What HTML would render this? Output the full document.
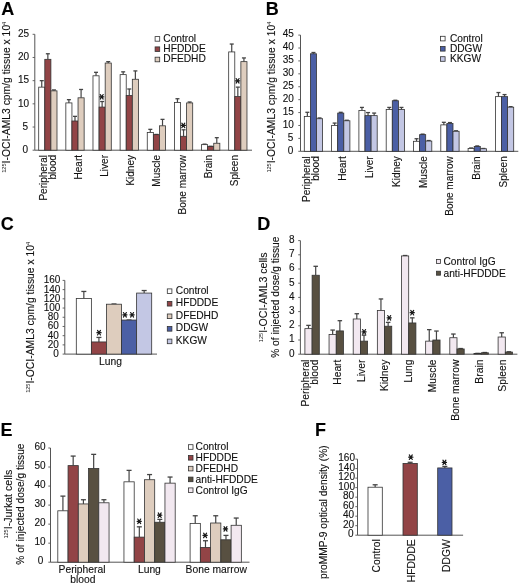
<!DOCTYPE html>
<html><head><meta charset="utf-8"><style>
html,body{margin:0;padding:0;background:#fff;}
body{width:520px;height:585px;overflow:hidden;}
svg{display:block;font-family:"Liberation Sans", sans-serif;filter:blur(0.35px);}
text{stroke:#111;stroke-width:0.12px;}
tspan[font-size="5.6"]{stroke-width:0;}
</style></head><body>
<svg width="520" height="585" viewBox="0 0 520 585">
<text x="1.20" y="15.00" font-size="18" text-anchor="start" font-weight="bold" fill="#000" >A</text>
<line x1="34.80" y1="34.30" x2="34.80" y2="150.20" stroke="#555" stroke-width="1"/>
<line x1="32.60" y1="150.20" x2="34.80" y2="150.20" stroke="#555" stroke-width="0.9"/>
<text x="28.00" y="153.00" font-size="10" text-anchor="end" font-weight="normal" fill="#111" >0</text>
<line x1="32.60" y1="127.02" x2="34.80" y2="127.02" stroke="#555" stroke-width="0.9"/>
<text x="28.00" y="129.82" font-size="10" text-anchor="end" font-weight="normal" fill="#111" >5</text>
<line x1="32.60" y1="103.84" x2="34.80" y2="103.84" stroke="#555" stroke-width="0.9"/>
<text x="29.10" y="106.64" font-size="10" text-anchor="end" font-weight="normal" fill="#111" >10</text>
<line x1="32.60" y1="80.66" x2="34.80" y2="80.66" stroke="#555" stroke-width="0.9"/>
<text x="29.10" y="83.46" font-size="10" text-anchor="end" font-weight="normal" fill="#111" >15</text>
<line x1="32.60" y1="57.48" x2="34.80" y2="57.48" stroke="#555" stroke-width="0.9"/>
<text x="29.10" y="60.28" font-size="10" text-anchor="end" font-weight="normal" fill="#111" >20</text>
<line x1="32.60" y1="34.30" x2="34.80" y2="34.30" stroke="#555" stroke-width="0.9"/>
<text x="29.10" y="37.10" font-size="10" text-anchor="end" font-weight="normal" fill="#111" >25</text>
<line x1="34.80" y1="150.20" x2="252.00" y2="150.20" stroke="#555" stroke-width="1"/>
<text transform="translate(9.60,97.25) rotate(-90)" font-size="10.35" text-anchor="middle" fill="#111" ><tspan font-size="5.6" dy="-3.6">125</tspan><tspan dy="3.6">I-OCI-AML3 cpm/g tissue x 10</tspan><tspan font-size="5.6" dy="-3.6">4</tspan></text>
<line x1="41.75" y1="80.66" x2="41.75" y2="87.15" stroke="#444" stroke-width="1.2"/>
<line x1="39.75" y1="80.66" x2="43.75" y2="80.66" stroke="#444" stroke-width="1.3"/>
<rect x="38.70" y="87.15" width="6.10" height="63.05" fill="#ffffff" stroke="#333" stroke-width="0.8"/>
<line x1="47.85" y1="53.77" x2="47.85" y2="59.33" stroke="#444" stroke-width="1.2"/>
<line x1="45.85" y1="53.77" x2="49.85" y2="53.77" stroke="#444" stroke-width="1.3"/>
<rect x="44.80" y="59.33" width="6.10" height="90.87" fill="#924446" stroke="#333" stroke-width="0.8"/>
<line x1="53.95" y1="89.93" x2="53.95" y2="90.86" stroke="#444" stroke-width="1.2"/>
<line x1="51.95" y1="89.93" x2="55.95" y2="89.93" stroke="#444" stroke-width="1.3"/>
<rect x="50.90" y="90.86" width="6.10" height="59.34" fill="#decdbe" stroke="#333" stroke-width="0.8"/>
<line x1="68.89" y1="99.67" x2="68.89" y2="102.91" stroke="#444" stroke-width="1.2"/>
<line x1="66.89" y1="99.67" x2="70.89" y2="99.67" stroke="#444" stroke-width="1.3"/>
<rect x="65.84" y="102.91" width="6.10" height="47.29" fill="#ffffff" stroke="#333" stroke-width="0.8"/>
<line x1="74.99" y1="116.36" x2="74.99" y2="120.99" stroke="#444" stroke-width="1.2"/>
<line x1="72.99" y1="116.36" x2="76.99" y2="116.36" stroke="#444" stroke-width="1.3"/>
<rect x="71.94" y="120.99" width="6.10" height="29.21" fill="#924446" stroke="#333" stroke-width="0.8"/>
<line x1="81.09" y1="89.47" x2="81.09" y2="97.81" stroke="#444" stroke-width="1.2"/>
<line x1="79.09" y1="89.47" x2="83.09" y2="89.47" stroke="#444" stroke-width="1.3"/>
<rect x="78.04" y="97.81" width="6.10" height="52.39" fill="#decdbe" stroke="#333" stroke-width="0.8"/>
<line x1="96.03" y1="72.32" x2="96.03" y2="75.79" stroke="#444" stroke-width="1.2"/>
<line x1="94.03" y1="72.32" x2="98.03" y2="72.32" stroke="#444" stroke-width="1.3"/>
<rect x="92.98" y="75.79" width="6.10" height="74.41" fill="#ffffff" stroke="#333" stroke-width="0.8"/>
<line x1="102.13" y1="101.52" x2="102.13" y2="107.09" stroke="#444" stroke-width="1.2"/>
<line x1="100.13" y1="101.52" x2="104.13" y2="101.52" stroke="#444" stroke-width="1.3"/>
<rect x="99.08" y="107.09" width="6.10" height="43.11" fill="#924446" stroke="#333" stroke-width="0.8"/>
<line x1="108.23" y1="61.65" x2="108.23" y2="63.04" stroke="#444" stroke-width="1.2"/>
<line x1="106.23" y1="61.65" x2="110.23" y2="61.65" stroke="#444" stroke-width="1.3"/>
<rect x="105.18" y="63.04" width="6.10" height="87.16" fill="#decdbe" stroke="#333" stroke-width="0.8"/>
<line x1="123.17" y1="71.85" x2="123.17" y2="74.63" stroke="#444" stroke-width="1.2"/>
<line x1="121.17" y1="71.85" x2="125.17" y2="71.85" stroke="#444" stroke-width="1.3"/>
<rect x="120.12" y="74.63" width="6.10" height="75.57" fill="#ffffff" stroke="#333" stroke-width="0.8"/>
<line x1="129.27" y1="89.00" x2="129.27" y2="95.50" stroke="#444" stroke-width="1.2"/>
<line x1="127.27" y1="89.00" x2="131.27" y2="89.00" stroke="#444" stroke-width="1.3"/>
<rect x="126.22" y="95.50" width="6.10" height="54.70" fill="#924446" stroke="#333" stroke-width="0.8"/>
<line x1="135.37" y1="70.92" x2="135.37" y2="79.27" stroke="#444" stroke-width="1.2"/>
<line x1="133.37" y1="70.92" x2="137.37" y2="70.92" stroke="#444" stroke-width="1.3"/>
<rect x="132.32" y="79.27" width="6.10" height="70.93" fill="#decdbe" stroke="#333" stroke-width="0.8"/>
<line x1="150.31" y1="129.34" x2="150.31" y2="132.40" stroke="#444" stroke-width="1.2"/>
<line x1="148.31" y1="129.34" x2="152.31" y2="129.34" stroke="#444" stroke-width="1.3"/>
<rect x="147.26" y="132.40" width="6.10" height="17.80" fill="#ffffff" stroke="#333" stroke-width="0.8"/>
<line x1="156.41" y1="134.44" x2="156.41" y2="134.67" stroke="#444" stroke-width="1.2"/>
<line x1="154.41" y1="134.44" x2="158.41" y2="134.44" stroke="#444" stroke-width="1.3"/>
<rect x="153.36" y="134.67" width="6.10" height="15.53" fill="#924446" stroke="#333" stroke-width="0.8"/>
<line x1="162.51" y1="119.37" x2="162.51" y2="125.81" stroke="#444" stroke-width="1.2"/>
<line x1="160.51" y1="119.37" x2="164.51" y2="119.37" stroke="#444" stroke-width="1.3"/>
<rect x="159.46" y="125.81" width="6.10" height="24.39" fill="#decdbe" stroke="#333" stroke-width="0.8"/>
<line x1="177.45" y1="98.74" x2="177.45" y2="102.45" stroke="#444" stroke-width="1.2"/>
<line x1="175.45" y1="98.74" x2="179.45" y2="98.74" stroke="#444" stroke-width="1.3"/>
<rect x="174.40" y="102.45" width="6.10" height="47.75" fill="#ffffff" stroke="#333" stroke-width="0.8"/>
<line x1="183.55" y1="129.80" x2="183.55" y2="136.29" stroke="#444" stroke-width="1.2"/>
<line x1="181.55" y1="129.80" x2="185.55" y2="129.80" stroke="#444" stroke-width="1.3"/>
<rect x="180.50" y="136.29" width="6.10" height="13.91" fill="#924446" stroke="#333" stroke-width="0.8"/>
<line x1="189.65" y1="101.99" x2="189.65" y2="102.91" stroke="#444" stroke-width="1.2"/>
<line x1="187.65" y1="101.99" x2="191.65" y2="101.99" stroke="#444" stroke-width="1.3"/>
<rect x="186.60" y="102.91" width="6.10" height="47.29" fill="#decdbe" stroke="#333" stroke-width="0.8"/>
<line x1="204.59" y1="144.17" x2="204.59" y2="144.64" stroke="#444" stroke-width="1.2"/>
<line x1="202.59" y1="144.17" x2="206.59" y2="144.17" stroke="#444" stroke-width="1.3"/>
<rect x="201.54" y="144.64" width="6.10" height="5.56" fill="#ffffff" stroke="#333" stroke-width="0.8"/>
<line x1="210.69" y1="146.26" x2="210.69" y2="146.49" stroke="#444" stroke-width="1.2"/>
<line x1="208.69" y1="146.26" x2="212.69" y2="146.26" stroke="#444" stroke-width="1.3"/>
<rect x="207.64" y="146.49" width="6.10" height="3.71" fill="#924446" stroke="#333" stroke-width="0.8"/>
<line x1="216.79" y1="137.68" x2="216.79" y2="143.25" stroke="#444" stroke-width="1.2"/>
<line x1="214.79" y1="137.68" x2="218.79" y2="137.68" stroke="#444" stroke-width="1.3"/>
<rect x="213.74" y="143.25" width="6.10" height="6.95" fill="#decdbe" stroke="#333" stroke-width="0.8"/>
<line x1="231.73" y1="44.04" x2="231.73" y2="51.92" stroke="#444" stroke-width="1.2"/>
<line x1="229.73" y1="44.04" x2="233.73" y2="44.04" stroke="#444" stroke-width="1.3"/>
<rect x="228.68" y="51.92" width="6.10" height="98.28" fill="#ffffff" stroke="#333" stroke-width="0.8"/>
<line x1="237.83" y1="87.15" x2="237.83" y2="96.56" stroke="#444" stroke-width="1.2"/>
<line x1="235.83" y1="87.15" x2="239.83" y2="87.15" stroke="#444" stroke-width="1.3"/>
<rect x="234.78" y="96.56" width="6.10" height="53.64" fill="#924446" stroke="#333" stroke-width="0.8"/>
<line x1="243.93" y1="57.94" x2="243.93" y2="61.65" stroke="#444" stroke-width="1.2"/>
<line x1="241.93" y1="57.94" x2="245.93" y2="57.94" stroke="#444" stroke-width="1.3"/>
<rect x="240.88" y="61.65" width="6.10" height="88.55" fill="#decdbe" stroke="#333" stroke-width="0.8"/>
<path d="M99.60,96.80L103.80,96.80M100.23,94.54L103.17,99.06M103.17,94.54L100.23,99.06" stroke="#1a1a1a" stroke-width="1.2" stroke-linecap="round" fill="none"/>
<circle cx="101.70" cy="96.80" r="0.9" fill="#1a1a1a"/>
<path d="M181.20,125.40L185.40,125.40M181.83,123.14L184.77,127.66M184.77,123.14L181.83,127.66" stroke="#1a1a1a" stroke-width="1.2" stroke-linecap="round" fill="none"/>
<circle cx="183.30" cy="125.40" r="0.9" fill="#1a1a1a"/>
<path d="M235.50,80.80L239.70,80.80M236.13,78.54L239.07,83.06M239.07,78.54L236.13,83.06" stroke="#1a1a1a" stroke-width="1.2" stroke-linecap="round" fill="none"/>
<circle cx="237.60" cy="80.80" r="0.9" fill="#1a1a1a"/>
<text transform="translate(46.80,155.00) rotate(-90)" font-size="10" text-anchor="end" fill="#111" >Peripheral</text>
<text transform="translate(56.00,155.00) rotate(-90)" font-size="10" text-anchor="end" fill="#111" >blood</text>
<text transform="translate(82.00,155.00) rotate(-90)" font-size="10" text-anchor="end" fill="#111" >Heart</text>
<text transform="translate(108.00,155.00) rotate(-90)" font-size="10" text-anchor="end" fill="#111" >Liver</text>
<text transform="translate(134.00,155.00) rotate(-90)" font-size="10" text-anchor="end" fill="#111" >Kidney</text>
<text transform="translate(160.00,155.00) rotate(-90)" font-size="10" text-anchor="end" fill="#111" >Muscle</text>
<text transform="translate(186.00,155.00) rotate(-90)" font-size="10" text-anchor="end" fill="#111" >Bone marrow</text>
<text transform="translate(212.00,155.00) rotate(-90)" font-size="10" text-anchor="end" fill="#111" >Brain</text>
<text transform="translate(238.00,155.00) rotate(-90)" font-size="10" text-anchor="end" fill="#111" >Spleen</text>
<rect x="155.10" y="36.60" width="4.60" height="4.60" fill="#ffffff" stroke="#333" stroke-width="0.8"/>
<text x="163.30" y="41.50" font-size="10.2" text-anchor="start" font-weight="normal" fill="#111" >Control</text>
<rect x="155.10" y="46.90" width="4.60" height="4.60" fill="#924446" stroke="#333" stroke-width="0.8"/>
<text x="163.30" y="51.80" font-size="10.2" text-anchor="start" font-weight="normal" fill="#111" >HFDDDE</text>
<rect x="155.10" y="57.20" width="4.60" height="4.60" fill="#decdbe" stroke="#333" stroke-width="0.8"/>
<text x="163.30" y="62.10" font-size="10.2" text-anchor="start" font-weight="normal" fill="#111" >DFEDHD</text>
<text x="265.70" y="15.00" font-size="18" text-anchor="start" font-weight="bold" fill="#000" >B</text>
<line x1="300.50" y1="35.10" x2="300.50" y2="151.30" stroke="#555" stroke-width="1"/>
<line x1="298.30" y1="151.30" x2="300.50" y2="151.30" stroke="#555" stroke-width="0.9"/>
<text x="293.20" y="153.60" font-size="10" text-anchor="end" font-weight="normal" fill="#111" >0</text>
<line x1="298.30" y1="138.39" x2="300.50" y2="138.39" stroke="#555" stroke-width="0.9"/>
<text x="293.20" y="140.69" font-size="10" text-anchor="end" font-weight="normal" fill="#111" >5</text>
<line x1="298.30" y1="125.48" x2="300.50" y2="125.48" stroke="#555" stroke-width="0.9"/>
<text x="293.80" y="127.78" font-size="10" text-anchor="end" font-weight="normal" fill="#111" >10</text>
<line x1="298.30" y1="112.57" x2="300.50" y2="112.57" stroke="#555" stroke-width="0.9"/>
<text x="293.80" y="114.87" font-size="10" text-anchor="end" font-weight="normal" fill="#111" >15</text>
<line x1="298.30" y1="99.66" x2="300.50" y2="99.66" stroke="#555" stroke-width="0.9"/>
<text x="293.80" y="101.96" font-size="10" text-anchor="end" font-weight="normal" fill="#111" >20</text>
<line x1="298.30" y1="86.74" x2="300.50" y2="86.74" stroke="#555" stroke-width="0.9"/>
<text x="293.80" y="89.04" font-size="10" text-anchor="end" font-weight="normal" fill="#111" >25</text>
<line x1="298.30" y1="73.83" x2="300.50" y2="73.83" stroke="#555" stroke-width="0.9"/>
<text x="293.80" y="76.13" font-size="10" text-anchor="end" font-weight="normal" fill="#111" >30</text>
<line x1="298.30" y1="60.92" x2="300.50" y2="60.92" stroke="#555" stroke-width="0.9"/>
<text x="293.80" y="63.22" font-size="10" text-anchor="end" font-weight="normal" fill="#111" >35</text>
<line x1="298.30" y1="48.01" x2="300.50" y2="48.01" stroke="#555" stroke-width="0.9"/>
<text x="293.80" y="50.31" font-size="10" text-anchor="end" font-weight="normal" fill="#111" >40</text>
<line x1="298.30" y1="35.10" x2="300.50" y2="35.10" stroke="#555" stroke-width="0.9"/>
<text x="293.80" y="37.40" font-size="10" text-anchor="end" font-weight="normal" fill="#111" >45</text>
<line x1="300.50" y1="151.30" x2="518.30" y2="151.30" stroke="#555" stroke-width="1"/>
<text transform="translate(274.90,97.10) rotate(-90)" font-size="10.35" text-anchor="middle" fill="#111" ><tspan font-size="5.6" dy="-3.6">125</tspan><tspan dy="3.6">I-OCI-AML3 cpm/g tissue x 10</tspan><tspan font-size="5.6" dy="-3.6">4</tspan></text>
<line x1="307.35" y1="112.30" x2="307.35" y2="116.41" stroke="#444" stroke-width="1.2"/>
<line x1="305.35" y1="112.30" x2="309.35" y2="112.30" stroke="#444" stroke-width="1.3"/>
<rect x="304.30" y="116.41" width="6.10" height="34.89" fill="#ffffff" stroke="#333" stroke-width="0.8"/>
<line x1="313.45" y1="52.50" x2="313.45" y2="53.78" stroke="#444" stroke-width="1.2"/>
<line x1="311.45" y1="52.50" x2="315.45" y2="52.50" stroke="#444" stroke-width="1.3"/>
<rect x="310.40" y="53.78" width="6.10" height="97.52" fill="#4b5fa5" stroke="#333" stroke-width="0.8"/>
<line x1="319.55" y1="117.95" x2="319.55" y2="118.72" stroke="#444" stroke-width="1.2"/>
<line x1="317.55" y1="117.95" x2="321.55" y2="117.95" stroke="#444" stroke-width="1.3"/>
<rect x="316.50" y="118.72" width="6.10" height="32.58" fill="#c3c7e4" stroke="#333" stroke-width="0.8"/>
<line x1="334.65" y1="123.08" x2="334.65" y2="125.39" stroke="#444" stroke-width="1.2"/>
<line x1="332.65" y1="123.08" x2="336.65" y2="123.08" stroke="#444" stroke-width="1.3"/>
<rect x="331.60" y="125.39" width="6.10" height="25.91" fill="#ffffff" stroke="#333" stroke-width="0.8"/>
<line x1="340.75" y1="112.30" x2="340.75" y2="113.07" stroke="#444" stroke-width="1.2"/>
<line x1="338.75" y1="112.30" x2="342.75" y2="112.30" stroke="#444" stroke-width="1.3"/>
<rect x="337.70" y="113.07" width="6.10" height="38.23" fill="#4b5fa5" stroke="#333" stroke-width="0.8"/>
<line x1="346.85" y1="120.26" x2="346.85" y2="120.77" stroke="#444" stroke-width="1.2"/>
<line x1="344.85" y1="120.26" x2="348.85" y2="120.26" stroke="#444" stroke-width="1.3"/>
<rect x="343.80" y="120.77" width="6.10" height="30.53" fill="#c3c7e4" stroke="#333" stroke-width="0.8"/>
<line x1="361.95" y1="107.42" x2="361.95" y2="110.50" stroke="#444" stroke-width="1.2"/>
<line x1="359.95" y1="107.42" x2="363.95" y2="107.42" stroke="#444" stroke-width="1.3"/>
<rect x="358.90" y="110.50" width="6.10" height="40.80" fill="#ffffff" stroke="#333" stroke-width="0.8"/>
<line x1="368.05" y1="112.56" x2="368.05" y2="115.64" stroke="#444" stroke-width="1.2"/>
<line x1="366.05" y1="112.56" x2="370.05" y2="112.56" stroke="#444" stroke-width="1.3"/>
<rect x="365.00" y="115.64" width="6.10" height="35.66" fill="#4b5fa5" stroke="#333" stroke-width="0.8"/>
<line x1="374.15" y1="113.07" x2="374.15" y2="115.64" stroke="#444" stroke-width="1.2"/>
<line x1="372.15" y1="113.07" x2="376.15" y2="113.07" stroke="#444" stroke-width="1.3"/>
<rect x="371.10" y="115.64" width="6.10" height="35.66" fill="#c3c7e4" stroke="#333" stroke-width="0.8"/>
<line x1="389.25" y1="107.42" x2="389.25" y2="109.48" stroke="#444" stroke-width="1.2"/>
<line x1="387.25" y1="107.42" x2="391.25" y2="107.42" stroke="#444" stroke-width="1.3"/>
<rect x="386.20" y="109.48" width="6.10" height="41.82" fill="#ffffff" stroke="#333" stroke-width="0.8"/>
<line x1="395.35" y1="100.24" x2="395.35" y2="100.75" stroke="#444" stroke-width="1.2"/>
<line x1="393.35" y1="100.24" x2="397.35" y2="100.24" stroke="#444" stroke-width="1.3"/>
<rect x="392.30" y="100.75" width="6.10" height="50.55" fill="#4b5fa5" stroke="#333" stroke-width="0.8"/>
<line x1="401.45" y1="107.42" x2="401.45" y2="109.48" stroke="#444" stroke-width="1.2"/>
<line x1="399.45" y1="107.42" x2="403.45" y2="107.42" stroke="#444" stroke-width="1.3"/>
<rect x="398.40" y="109.48" width="6.10" height="41.82" fill="#c3c7e4" stroke="#333" stroke-width="0.8"/>
<line x1="416.55" y1="138.74" x2="416.55" y2="141.30" stroke="#444" stroke-width="1.2"/>
<line x1="414.55" y1="138.74" x2="418.55" y2="138.74" stroke="#444" stroke-width="1.3"/>
<rect x="413.50" y="141.30" width="6.10" height="10.00" fill="#ffffff" stroke="#333" stroke-width="0.8"/>
<line x1="422.65" y1="134.12" x2="422.65" y2="134.63" stroke="#444" stroke-width="1.2"/>
<line x1="420.65" y1="134.12" x2="424.65" y2="134.12" stroke="#444" stroke-width="1.3"/>
<rect x="419.60" y="134.63" width="6.10" height="16.67" fill="#4b5fa5" stroke="#333" stroke-width="0.8"/>
<line x1="428.75" y1="140.53" x2="428.75" y2="141.05" stroke="#444" stroke-width="1.2"/>
<line x1="426.75" y1="140.53" x2="430.75" y2="140.53" stroke="#444" stroke-width="1.3"/>
<rect x="425.70" y="141.05" width="6.10" height="10.25" fill="#c3c7e4" stroke="#333" stroke-width="0.8"/>
<line x1="443.85" y1="122.31" x2="443.85" y2="124.88" stroke="#444" stroke-width="1.2"/>
<line x1="441.85" y1="122.31" x2="445.85" y2="122.31" stroke="#444" stroke-width="1.3"/>
<rect x="440.80" y="124.88" width="6.10" height="26.42" fill="#ffffff" stroke="#333" stroke-width="0.8"/>
<line x1="449.95" y1="122.57" x2="449.95" y2="123.59" stroke="#444" stroke-width="1.2"/>
<line x1="447.95" y1="122.57" x2="451.95" y2="122.57" stroke="#444" stroke-width="1.3"/>
<rect x="446.90" y="123.59" width="6.10" height="27.71" fill="#4b5fa5" stroke="#333" stroke-width="0.8"/>
<line x1="456.05" y1="130.78" x2="456.05" y2="131.29" stroke="#444" stroke-width="1.2"/>
<line x1="454.05" y1="130.78" x2="458.05" y2="130.78" stroke="#444" stroke-width="1.3"/>
<rect x="453.00" y="131.29" width="6.10" height="20.01" fill="#c3c7e4" stroke="#333" stroke-width="0.8"/>
<line x1="471.15" y1="147.98" x2="471.15" y2="148.49" stroke="#444" stroke-width="1.2"/>
<line x1="469.15" y1="147.98" x2="473.15" y2="147.98" stroke="#444" stroke-width="1.3"/>
<rect x="468.10" y="148.49" width="6.10" height="2.81" fill="#ffffff" stroke="#333" stroke-width="0.8"/>
<line x1="477.25" y1="145.92" x2="477.25" y2="146.44" stroke="#444" stroke-width="1.2"/>
<line x1="475.25" y1="145.92" x2="479.25" y2="145.92" stroke="#444" stroke-width="1.3"/>
<rect x="474.20" y="146.44" width="6.10" height="4.86" fill="#4b5fa5" stroke="#333" stroke-width="0.8"/>
<line x1="483.35" y1="148.49" x2="483.35" y2="148.75" stroke="#444" stroke-width="1.2"/>
<line x1="481.35" y1="148.49" x2="485.35" y2="148.49" stroke="#444" stroke-width="1.3"/>
<rect x="480.30" y="148.75" width="6.10" height="2.55" fill="#c3c7e4" stroke="#333" stroke-width="0.8"/>
<line x1="498.45" y1="92.54" x2="498.45" y2="96.64" stroke="#444" stroke-width="1.2"/>
<line x1="496.45" y1="92.54" x2="500.45" y2="92.54" stroke="#444" stroke-width="1.3"/>
<rect x="495.40" y="96.64" width="6.10" height="54.66" fill="#ffffff" stroke="#333" stroke-width="0.8"/>
<line x1="504.55" y1="94.59" x2="504.55" y2="96.64" stroke="#444" stroke-width="1.2"/>
<line x1="502.55" y1="94.59" x2="506.55" y2="94.59" stroke="#444" stroke-width="1.3"/>
<rect x="501.50" y="96.64" width="6.10" height="54.66" fill="#4b5fa5" stroke="#333" stroke-width="0.8"/>
<line x1="510.65" y1="106.65" x2="510.65" y2="107.17" stroke="#444" stroke-width="1.2"/>
<line x1="508.65" y1="106.65" x2="512.65" y2="106.65" stroke="#444" stroke-width="1.3"/>
<rect x="507.60" y="107.17" width="6.10" height="44.13" fill="#c3c7e4" stroke="#333" stroke-width="0.8"/>
<text transform="translate(309.50,156.30) rotate(-90)" font-size="10" text-anchor="end" fill="#111" >Peripheral</text>
<text transform="translate(319.20,156.30) rotate(-90)" font-size="10" text-anchor="end" fill="#111" >blood</text>
<text transform="translate(345.80,156.30) rotate(-90)" font-size="10" text-anchor="end" fill="#111" >Heart</text>
<text transform="translate(372.70,156.30) rotate(-90)" font-size="10" text-anchor="end" fill="#111" >Liver</text>
<text transform="translate(399.60,156.30) rotate(-90)" font-size="10" text-anchor="end" fill="#111" >Kidney</text>
<text transform="translate(426.50,156.30) rotate(-90)" font-size="10" text-anchor="end" fill="#111" >Muscle</text>
<text transform="translate(453.40,156.30) rotate(-90)" font-size="10" text-anchor="end" fill="#111" >Bone marrow</text>
<text transform="translate(480.30,156.30) rotate(-90)" font-size="10" text-anchor="end" fill="#111" >Brain</text>
<text transform="translate(507.20,156.30) rotate(-90)" font-size="10" text-anchor="end" fill="#111" >Spleen</text>
<rect x="440.50" y="36.30" width="4.60" height="4.60" fill="#ffffff" stroke="#333" stroke-width="0.8"/>
<text x="449.90" y="41.90" font-size="10.2" text-anchor="start" font-weight="normal" fill="#111" >Control</text>
<rect x="440.50" y="46.50" width="4.60" height="4.60" fill="#4b5fa5" stroke="#333" stroke-width="0.8"/>
<text x="449.90" y="52.10" font-size="10.2" text-anchor="start" font-weight="normal" fill="#111" >DDGW</text>
<rect x="440.50" y="56.70" width="4.60" height="4.60" fill="#c3c7e4" stroke="#333" stroke-width="0.8"/>
<text x="449.90" y="62.30" font-size="10.2" text-anchor="start" font-weight="normal" fill="#111" >KKGW</text>
<text x="0.70" y="230.10" font-size="18" text-anchor="start" font-weight="bold" fill="#000" >C</text>
<line x1="64.80" y1="280.40" x2="64.80" y2="354.10" stroke="#555" stroke-width="1"/>
<line x1="62.60" y1="354.10" x2="64.80" y2="354.10" stroke="#555" stroke-width="0.9"/>
<text x="58.70" y="357.00" font-size="10" text-anchor="end" font-weight="normal" fill="#111" >0</text>
<line x1="62.60" y1="344.89" x2="64.80" y2="344.89" stroke="#555" stroke-width="0.9"/>
<text x="58.80" y="347.79" font-size="10" text-anchor="end" font-weight="normal" fill="#111" >20</text>
<line x1="62.60" y1="335.68" x2="64.80" y2="335.68" stroke="#555" stroke-width="0.9"/>
<text x="58.80" y="338.58" font-size="10" text-anchor="end" font-weight="normal" fill="#111" >40</text>
<line x1="62.60" y1="326.46" x2="64.80" y2="326.46" stroke="#555" stroke-width="0.9"/>
<text x="58.80" y="329.36" font-size="10" text-anchor="end" font-weight="normal" fill="#111" >60</text>
<line x1="62.60" y1="317.25" x2="64.80" y2="317.25" stroke="#555" stroke-width="0.9"/>
<text x="58.80" y="320.15" font-size="10" text-anchor="end" font-weight="normal" fill="#111" >80</text>
<line x1="62.60" y1="308.04" x2="64.80" y2="308.04" stroke="#555" stroke-width="0.9"/>
<text x="60.40" y="310.94" font-size="10" text-anchor="end" font-weight="normal" fill="#111" >100</text>
<line x1="62.60" y1="298.82" x2="64.80" y2="298.82" stroke="#555" stroke-width="0.9"/>
<text x="60.40" y="301.73" font-size="10" text-anchor="end" font-weight="normal" fill="#111" >120</text>
<line x1="62.60" y1="289.61" x2="64.80" y2="289.61" stroke="#555" stroke-width="0.9"/>
<text x="60.40" y="292.51" font-size="10" text-anchor="end" font-weight="normal" fill="#111" >140</text>
<line x1="62.60" y1="280.40" x2="64.80" y2="280.40" stroke="#555" stroke-width="0.9"/>
<text x="60.40" y="283.30" font-size="10" text-anchor="end" font-weight="normal" fill="#111" >160</text>
<line x1="64.80" y1="354.10" x2="157.00" y2="354.10" stroke="#555" stroke-width="1"/>
<text transform="translate(33.60,317.35) rotate(-90)" font-size="10.35" text-anchor="middle" fill="#111" ><tspan font-size="5.6" dy="-3.6">125</tspan><tspan dy="3.6">I-OCI-AML3 cpm/g tissue x 10</tspan><tspan font-size="5.6" dy="-3.6">4</tspan></text>
<line x1="83.84" y1="291.45" x2="83.84" y2="298.50" stroke="#444" stroke-width="1.2"/>
<line x1="81.34" y1="291.45" x2="86.34" y2="291.45" stroke="#444" stroke-width="1.3"/>
<rect x="76.30" y="298.50" width="15.08" height="55.60" fill="#ffffff" stroke="#333" stroke-width="0.8"/>
<line x1="98.92" y1="337.43" x2="98.92" y2="341.94" stroke="#444" stroke-width="1.2"/>
<line x1="96.42" y1="337.43" x2="101.42" y2="337.43" stroke="#444" stroke-width="1.3"/>
<rect x="91.38" y="341.94" width="15.08" height="12.16" fill="#924446" stroke="#333" stroke-width="0.8"/>
<line x1="114.00" y1="303.98" x2="114.00" y2="304.21" stroke="#444" stroke-width="1.2"/>
<line x1="111.50" y1="303.98" x2="116.50" y2="303.98" stroke="#444" stroke-width="1.3"/>
<rect x="106.46" y="304.21" width="15.08" height="49.89" fill="#decdbe" stroke="#333" stroke-width="0.8"/>
<line x1="129.08" y1="320.01" x2="129.08" y2="320.06" stroke="#444" stroke-width="1.2"/>
<line x1="126.58" y1="320.01" x2="131.58" y2="320.01" stroke="#444" stroke-width="1.3"/>
<rect x="121.54" y="320.06" width="15.08" height="34.04" fill="#4b5fa5" stroke="#333" stroke-width="0.8"/>
<line x1="144.16" y1="290.53" x2="144.16" y2="293.07" stroke="#444" stroke-width="1.2"/>
<line x1="141.66" y1="290.53" x2="146.66" y2="290.53" stroke="#444" stroke-width="1.3"/>
<rect x="136.62" y="293.07" width="15.08" height="61.03" fill="#c3c7e4" stroke="#333" stroke-width="0.8"/>
<path d="M96.90,332.70L101.10,332.70M97.53,330.44L100.47,334.96M100.47,330.44L97.53,334.96" stroke="#1a1a1a" stroke-width="1.2" stroke-linecap="round" fill="none"/>
<circle cx="99.00" cy="332.70" r="0.9" fill="#1a1a1a"/>
<path d="M122.80,314.80L127.00,314.80M123.43,312.54L126.37,317.06M126.37,312.54L123.43,317.06" stroke="#1a1a1a" stroke-width="1.2" stroke-linecap="round" fill="none"/>
<circle cx="124.90" cy="314.80" r="0.9" fill="#1a1a1a"/>
<path d="M130.00,314.80L134.20,314.80M130.63,312.54L133.57,317.06M133.57,312.54L130.63,317.06" stroke="#1a1a1a" stroke-width="1.2" stroke-linecap="round" fill="none"/>
<circle cx="132.10" cy="314.80" r="0.9" fill="#1a1a1a"/>
<text x="110.50" y="364.50" font-size="10.3" text-anchor="middle" font-weight="normal" fill="#111" >Lung</text>
<rect x="167.30" y="288.90" width="4.60" height="4.60" fill="#ffffff" stroke="#333" stroke-width="0.8"/>
<text x="175.80" y="293.80" font-size="10.2" text-anchor="start" font-weight="normal" fill="#111" >Control</text>
<rect x="167.30" y="301.45" width="4.60" height="4.60" fill="#924446" stroke="#333" stroke-width="0.8"/>
<text x="175.80" y="306.35" font-size="10.2" text-anchor="start" font-weight="normal" fill="#111" >HFDDDE</text>
<rect x="167.30" y="314.00" width="4.60" height="4.60" fill="#decdbe" stroke="#333" stroke-width="0.8"/>
<text x="175.80" y="318.90" font-size="10.2" text-anchor="start" font-weight="normal" fill="#111" >DFEDHD</text>
<rect x="167.30" y="326.55" width="4.60" height="4.60" fill="#4b5fa5" stroke="#333" stroke-width="0.8"/>
<text x="175.80" y="331.45" font-size="10.2" text-anchor="start" font-weight="normal" fill="#111" >DDGW</text>
<rect x="167.30" y="339.10" width="4.60" height="4.60" fill="#c3c7e4" stroke="#333" stroke-width="0.8"/>
<text x="175.80" y="344.00" font-size="10.2" text-anchor="start" font-weight="normal" fill="#111" >KKGW</text>
<text x="257.30" y="230.20" font-size="18" text-anchor="start" font-weight="bold" fill="#000" >D</text>
<line x1="300.40" y1="240.60" x2="300.40" y2="354.20" stroke="#555" stroke-width="1"/>
<line x1="298.20" y1="354.20" x2="300.40" y2="354.20" stroke="#555" stroke-width="0.9"/>
<text x="294.50" y="356.50" font-size="10" text-anchor="end" font-weight="normal" fill="#111" >0</text>
<line x1="298.20" y1="340.00" x2="300.40" y2="340.00" stroke="#555" stroke-width="0.9"/>
<text x="294.50" y="342.30" font-size="10" text-anchor="end" font-weight="normal" fill="#111" >1</text>
<line x1="298.20" y1="325.80" x2="300.40" y2="325.80" stroke="#555" stroke-width="0.9"/>
<text x="294.50" y="328.10" font-size="10" text-anchor="end" font-weight="normal" fill="#111" >2</text>
<line x1="298.20" y1="311.60" x2="300.40" y2="311.60" stroke="#555" stroke-width="0.9"/>
<text x="294.50" y="313.90" font-size="10" text-anchor="end" font-weight="normal" fill="#111" >3</text>
<line x1="298.20" y1="297.40" x2="300.40" y2="297.40" stroke="#555" stroke-width="0.9"/>
<text x="294.50" y="299.70" font-size="10" text-anchor="end" font-weight="normal" fill="#111" >4</text>
<line x1="298.20" y1="283.20" x2="300.40" y2="283.20" stroke="#555" stroke-width="0.9"/>
<text x="294.50" y="285.50" font-size="10" text-anchor="end" font-weight="normal" fill="#111" >5</text>
<line x1="298.20" y1="269.00" x2="300.40" y2="269.00" stroke="#555" stroke-width="0.9"/>
<text x="294.50" y="271.30" font-size="10" text-anchor="end" font-weight="normal" fill="#111" >6</text>
<line x1="298.20" y1="254.80" x2="300.40" y2="254.80" stroke="#555" stroke-width="0.9"/>
<text x="294.50" y="257.10" font-size="10" text-anchor="end" font-weight="normal" fill="#111" >7</text>
<line x1="298.20" y1="240.60" x2="300.40" y2="240.60" stroke="#555" stroke-width="0.9"/>
<text x="294.50" y="242.90" font-size="10" text-anchor="end" font-weight="normal" fill="#111" >8</text>
<line x1="300.30" y1="354.20" x2="517.40" y2="354.20" stroke="#555" stroke-width="1"/>
<text transform="translate(266.60,297.40) rotate(-90)" font-size="10.55" text-anchor="middle" fill="#111" ><tspan font-size="5.6" dy="-3.6">125</tspan><tspan dy="3.6">I-OCI-AML3 cells</tspan></text>
<text transform="translate(278.50,297.20) rotate(-90)" font-size="10.2" text-anchor="middle" fill="#111" >% of injected dose/g tissue</text>
<line x1="308.50" y1="325.37" x2="308.50" y2="328.64" stroke="#444" stroke-width="1.2"/>
<line x1="306.25" y1="325.37" x2="310.75" y2="325.37" stroke="#444" stroke-width="1.3"/>
<rect x="304.90" y="328.64" width="7.20" height="25.56" fill="#f2e8f0" stroke="#333" stroke-width="0.8"/>
<line x1="315.70" y1="266.30" x2="315.70" y2="275.25" stroke="#444" stroke-width="1.2"/>
<line x1="313.45" y1="266.30" x2="317.95" y2="266.30" stroke="#444" stroke-width="1.3"/>
<rect x="312.10" y="275.25" width="7.20" height="78.95" fill="#585041" stroke="#333" stroke-width="0.8"/>
<line x1="332.65" y1="330.06" x2="332.65" y2="334.46" stroke="#444" stroke-width="1.2"/>
<line x1="330.40" y1="330.06" x2="334.90" y2="330.06" stroke="#444" stroke-width="1.3"/>
<rect x="329.05" y="334.46" width="7.20" height="19.74" fill="#f2e8f0" stroke="#333" stroke-width="0.8"/>
<line x1="339.85" y1="320.69" x2="339.85" y2="330.91" stroke="#444" stroke-width="1.2"/>
<line x1="337.60" y1="320.69" x2="342.10" y2="320.69" stroke="#444" stroke-width="1.3"/>
<rect x="336.25" y="330.91" width="7.20" height="23.29" fill="#585041" stroke="#333" stroke-width="0.8"/>
<line x1="356.80" y1="313.73" x2="356.80" y2="318.98" stroke="#444" stroke-width="1.2"/>
<line x1="354.55" y1="313.73" x2="359.05" y2="313.73" stroke="#444" stroke-width="1.3"/>
<rect x="353.20" y="318.98" width="7.20" height="35.22" fill="#f2e8f0" stroke="#333" stroke-width="0.8"/>
<line x1="364.00" y1="335.17" x2="364.00" y2="341.14" stroke="#444" stroke-width="1.2"/>
<line x1="361.75" y1="335.17" x2="366.25" y2="335.17" stroke="#444" stroke-width="1.3"/>
<rect x="360.40" y="341.14" width="7.20" height="13.06" fill="#585041" stroke="#333" stroke-width="0.8"/>
<line x1="380.95" y1="298.96" x2="380.95" y2="310.46" stroke="#444" stroke-width="1.2"/>
<line x1="378.70" y1="298.96" x2="383.20" y2="298.96" stroke="#444" stroke-width="1.3"/>
<rect x="377.35" y="310.46" width="7.20" height="43.74" fill="#f2e8f0" stroke="#333" stroke-width="0.8"/>
<line x1="388.15" y1="322.39" x2="388.15" y2="326.23" stroke="#444" stroke-width="1.2"/>
<line x1="385.90" y1="322.39" x2="390.40" y2="322.39" stroke="#444" stroke-width="1.3"/>
<rect x="384.55" y="326.23" width="7.20" height="27.97" fill="#585041" stroke="#333" stroke-width="0.8"/>
<line x1="405.10" y1="255.51" x2="405.10" y2="255.94" stroke="#444" stroke-width="1.2"/>
<line x1="402.85" y1="255.51" x2="407.35" y2="255.51" stroke="#444" stroke-width="1.3"/>
<rect x="401.50" y="255.94" width="7.20" height="98.26" fill="#f2e8f0" stroke="#333" stroke-width="0.8"/>
<line x1="412.30" y1="317.85" x2="412.30" y2="322.96" stroke="#444" stroke-width="1.2"/>
<line x1="410.05" y1="317.85" x2="414.55" y2="317.85" stroke="#444" stroke-width="1.3"/>
<rect x="408.70" y="322.96" width="7.20" height="31.24" fill="#585041" stroke="#333" stroke-width="0.8"/>
<line x1="429.25" y1="329.63" x2="429.25" y2="341.14" stroke="#444" stroke-width="1.2"/>
<line x1="427.00" y1="329.63" x2="431.50" y2="329.63" stroke="#444" stroke-width="1.3"/>
<rect x="425.65" y="341.14" width="7.20" height="13.06" fill="#f2e8f0" stroke="#333" stroke-width="0.8"/>
<line x1="436.45" y1="331.05" x2="436.45" y2="340.00" stroke="#444" stroke-width="1.2"/>
<line x1="434.20" y1="331.05" x2="438.70" y2="331.05" stroke="#444" stroke-width="1.3"/>
<rect x="432.85" y="340.00" width="7.20" height="14.20" fill="#585041" stroke="#333" stroke-width="0.8"/>
<line x1="453.40" y1="334.04" x2="453.40" y2="337.73" stroke="#444" stroke-width="1.2"/>
<line x1="451.15" y1="334.04" x2="455.65" y2="334.04" stroke="#444" stroke-width="1.3"/>
<rect x="449.80" y="337.73" width="7.20" height="16.47" fill="#f2e8f0" stroke="#333" stroke-width="0.8"/>
<line x1="460.60" y1="348.52" x2="460.60" y2="348.95" stroke="#444" stroke-width="1.2"/>
<line x1="458.35" y1="348.52" x2="462.85" y2="348.52" stroke="#444" stroke-width="1.3"/>
<rect x="457.00" y="348.95" width="7.20" height="5.25" fill="#585041" stroke="#333" stroke-width="0.8"/>
<line x1="477.55" y1="353.35" x2="477.55" y2="353.49" stroke="#444" stroke-width="1.2"/>
<line x1="475.30" y1="353.35" x2="479.80" y2="353.35" stroke="#444" stroke-width="1.3"/>
<rect x="473.95" y="353.49" width="7.20" height="0.71" fill="#f2e8f0" stroke="#333" stroke-width="0.8"/>
<line x1="484.75" y1="352.50" x2="484.75" y2="352.78" stroke="#444" stroke-width="1.2"/>
<line x1="482.50" y1="352.50" x2="487.00" y2="352.50" stroke="#444" stroke-width="1.3"/>
<rect x="481.15" y="352.78" width="7.20" height="1.42" fill="#585041" stroke="#333" stroke-width="0.8"/>
<line x1="501.70" y1="332.76" x2="501.70" y2="337.02" stroke="#444" stroke-width="1.2"/>
<line x1="499.45" y1="332.76" x2="503.95" y2="332.76" stroke="#444" stroke-width="1.3"/>
<rect x="498.10" y="337.02" width="7.20" height="17.18" fill="#f2e8f0" stroke="#333" stroke-width="0.8"/>
<line x1="508.90" y1="351.79" x2="508.90" y2="352.07" stroke="#444" stroke-width="1.2"/>
<line x1="506.65" y1="351.79" x2="511.15" y2="351.79" stroke="#444" stroke-width="1.3"/>
<rect x="505.30" y="352.07" width="7.20" height="2.13" fill="#585041" stroke="#333" stroke-width="0.8"/>
<path d="M362.00,331.80L366.20,331.80M362.63,329.54L365.57,334.06M365.57,329.54L362.63,334.06" stroke="#1a1a1a" stroke-width="1.2" stroke-linecap="round" fill="none"/>
<circle cx="364.10" cy="331.80" r="0.9" fill="#1a1a1a"/>
<path d="M387.10,317.80L391.30,317.80M387.73,315.54L390.67,320.06M390.67,315.54L387.73,320.06" stroke="#1a1a1a" stroke-width="1.2" stroke-linecap="round" fill="none"/>
<circle cx="389.20" cy="317.80" r="0.9" fill="#1a1a1a"/>
<path d="M410.10,312.70L414.30,312.70M410.73,310.44L413.67,314.96M413.67,310.44L410.73,314.96" stroke="#1a1a1a" stroke-width="1.2" stroke-linecap="round" fill="none"/>
<circle cx="412.20" cy="312.70" r="0.9" fill="#1a1a1a"/>
<text transform="translate(308.90,359.60) rotate(-90)" font-size="10.3" text-anchor="end" fill="#111" >Peripheral</text>
<text transform="translate(317.90,359.60) rotate(-90)" font-size="10.3" text-anchor="end" fill="#111" >blood</text>
<text transform="translate(341.00,359.60) rotate(-90)" font-size="10.3" text-anchor="end" fill="#111" >Heart</text>
<text transform="translate(364.63,359.60) rotate(-90)" font-size="10.3" text-anchor="end" fill="#111" >Liver</text>
<text transform="translate(388.26,359.60) rotate(-90)" font-size="10.3" text-anchor="end" fill="#111" >Kidney</text>
<text transform="translate(411.89,359.60) rotate(-90)" font-size="10.3" text-anchor="end" fill="#111" >Lung</text>
<text transform="translate(435.52,359.60) rotate(-90)" font-size="10.3" text-anchor="end" fill="#111" >Muscle</text>
<text transform="translate(459.15,359.60) rotate(-90)" font-size="10.3" text-anchor="end" fill="#111" >Bone marrow</text>
<text transform="translate(482.78,359.60) rotate(-90)" font-size="10.3" text-anchor="end" fill="#111" >Brain</text>
<text transform="translate(506.41,359.60) rotate(-90)" font-size="10.3" text-anchor="end" fill="#111" >Spleen</text>
<rect x="436.50" y="259.40" width="4.00" height="4.00" fill="#f2e8f0" stroke="#333" stroke-width="0.8"/>
<text x="443.50" y="264.70" font-size="10.2" text-anchor="start" font-weight="normal" fill="#111" >Control IgG</text>
<rect x="436.50" y="271.20" width="4.00" height="4.00" fill="#585041" stroke="#333" stroke-width="0.8"/>
<text x="443.50" y="276.50" font-size="10.2" text-anchor="start" font-weight="normal" fill="#111" >anti-HFDDDE</text>
<text x="0.60" y="435.50" font-size="18" text-anchor="start" font-weight="bold" fill="#000" >E</text>
<line x1="50.50" y1="448.00" x2="50.50" y2="562.20" stroke="#555" stroke-width="1"/>
<line x1="48.30" y1="562.20" x2="50.50" y2="562.20" stroke="#555" stroke-width="0.9"/>
<text x="43.40" y="564.40" font-size="10" text-anchor="end" font-weight="normal" fill="#111" >0</text>
<line x1="48.30" y1="543.17" x2="50.50" y2="543.17" stroke="#555" stroke-width="0.9"/>
<text x="45.70" y="545.37" font-size="10" text-anchor="end" font-weight="normal" fill="#111" >10</text>
<line x1="48.30" y1="524.13" x2="50.50" y2="524.13" stroke="#555" stroke-width="0.9"/>
<text x="45.70" y="526.33" font-size="10" text-anchor="end" font-weight="normal" fill="#111" >20</text>
<line x1="48.30" y1="505.10" x2="50.50" y2="505.10" stroke="#555" stroke-width="0.9"/>
<text x="45.70" y="507.30" font-size="10" text-anchor="end" font-weight="normal" fill="#111" >30</text>
<line x1="48.30" y1="486.07" x2="50.50" y2="486.07" stroke="#555" stroke-width="0.9"/>
<text x="45.70" y="488.27" font-size="10" text-anchor="end" font-weight="normal" fill="#111" >40</text>
<line x1="48.30" y1="467.03" x2="50.50" y2="467.03" stroke="#555" stroke-width="0.9"/>
<text x="45.70" y="469.23" font-size="10" text-anchor="end" font-weight="normal" fill="#111" >50</text>
<line x1="48.30" y1="448.00" x2="50.50" y2="448.00" stroke="#555" stroke-width="0.9"/>
<text x="45.70" y="450.20" font-size="10" text-anchor="end" font-weight="normal" fill="#111" >60</text>
<line x1="50.50" y1="562.20" x2="249.50" y2="562.20" stroke="#555" stroke-width="1"/>
<text transform="translate(11.50,504.20) rotate(-90)" font-size="10.6" text-anchor="middle" fill="#111" ><tspan font-size="5.6" dy="-3.6">125</tspan><tspan dy="3.6">I-Jurkat cells</tspan></text>
<text transform="translate(23.50,504.10) rotate(-90)" font-size="10.2" text-anchor="middle" fill="#111" >% of injected dose/g tissue</text>
<line x1="62.92" y1="496.12" x2="62.92" y2="510.80" stroke="#444" stroke-width="1.2"/>
<line x1="60.42" y1="496.12" x2="65.42" y2="496.12" stroke="#444" stroke-width="1.3"/>
<rect x="57.80" y="510.80" width="10.25" height="51.40" fill="#ffffff" stroke="#333" stroke-width="0.8"/>
<line x1="73.17" y1="456.08" x2="73.17" y2="465.61" stroke="#444" stroke-width="1.2"/>
<line x1="70.67" y1="456.08" x2="75.67" y2="456.08" stroke="#444" stroke-width="1.3"/>
<rect x="68.05" y="465.61" width="10.25" height="96.59" fill="#924446" stroke="#333" stroke-width="0.8"/>
<line x1="83.42" y1="499.74" x2="83.42" y2="503.94" stroke="#444" stroke-width="1.2"/>
<line x1="80.92" y1="499.74" x2="85.92" y2="499.74" stroke="#444" stroke-width="1.3"/>
<rect x="78.30" y="503.94" width="10.25" height="58.26" fill="#decdbe" stroke="#333" stroke-width="0.8"/>
<line x1="93.67" y1="454.36" x2="93.67" y2="468.47" stroke="#444" stroke-width="1.2"/>
<line x1="91.17" y1="454.36" x2="96.17" y2="454.36" stroke="#444" stroke-width="1.3"/>
<rect x="88.55" y="468.47" width="10.25" height="93.73" fill="#585041" stroke="#333" stroke-width="0.8"/>
<line x1="103.92" y1="499.74" x2="103.92" y2="502.79" stroke="#444" stroke-width="1.2"/>
<line x1="101.42" y1="499.74" x2="106.42" y2="499.74" stroke="#444" stroke-width="1.3"/>
<rect x="98.80" y="502.79" width="10.25" height="59.41" fill="#f2e8f0" stroke="#333" stroke-width="0.8"/>
<line x1="129.07" y1="470.38" x2="129.07" y2="481.82" stroke="#444" stroke-width="1.2"/>
<line x1="126.57" y1="470.38" x2="131.57" y2="470.38" stroke="#444" stroke-width="1.3"/>
<rect x="123.95" y="481.82" width="10.25" height="80.38" fill="#ffffff" stroke="#333" stroke-width="0.8"/>
<line x1="139.32" y1="526.82" x2="139.32" y2="537.11" stroke="#444" stroke-width="1.2"/>
<line x1="136.82" y1="526.82" x2="141.82" y2="526.82" stroke="#444" stroke-width="1.3"/>
<rect x="134.20" y="537.11" width="10.25" height="25.09" fill="#924446" stroke="#333" stroke-width="0.8"/>
<line x1="149.57" y1="474.57" x2="149.57" y2="479.72" stroke="#444" stroke-width="1.2"/>
<line x1="147.07" y1="474.57" x2="152.07" y2="474.57" stroke="#444" stroke-width="1.3"/>
<rect x="144.45" y="479.72" width="10.25" height="82.48" fill="#decdbe" stroke="#333" stroke-width="0.8"/>
<line x1="159.82" y1="519.38" x2="159.82" y2="522.24" stroke="#444" stroke-width="1.2"/>
<line x1="157.32" y1="519.38" x2="162.32" y2="519.38" stroke="#444" stroke-width="1.3"/>
<rect x="154.70" y="522.24" width="10.25" height="39.96" fill="#585041" stroke="#333" stroke-width="0.8"/>
<line x1="170.07" y1="477.05" x2="170.07" y2="483.15" stroke="#444" stroke-width="1.2"/>
<line x1="167.57" y1="477.05" x2="172.57" y2="477.05" stroke="#444" stroke-width="1.3"/>
<rect x="164.95" y="483.15" width="10.25" height="79.05" fill="#f2e8f0" stroke="#333" stroke-width="0.8"/>
<line x1="195.23" y1="515.76" x2="195.23" y2="523.39" stroke="#444" stroke-width="1.2"/>
<line x1="192.73" y1="515.76" x2="197.73" y2="515.76" stroke="#444" stroke-width="1.3"/>
<rect x="190.10" y="523.39" width="10.25" height="38.81" fill="#ffffff" stroke="#333" stroke-width="0.8"/>
<line x1="205.48" y1="540.74" x2="205.48" y2="547.41" stroke="#444" stroke-width="1.2"/>
<line x1="202.98" y1="540.74" x2="207.98" y2="540.74" stroke="#444" stroke-width="1.3"/>
<rect x="200.35" y="547.41" width="10.25" height="14.79" fill="#924446" stroke="#333" stroke-width="0.8"/>
<line x1="215.73" y1="515.76" x2="215.73" y2="523.00" stroke="#444" stroke-width="1.2"/>
<line x1="213.23" y1="515.76" x2="218.23" y2="515.76" stroke="#444" stroke-width="1.3"/>
<rect x="210.60" y="523.00" width="10.25" height="39.20" fill="#decdbe" stroke="#333" stroke-width="0.8"/>
<line x1="225.98" y1="535.40" x2="225.98" y2="539.78" stroke="#444" stroke-width="1.2"/>
<line x1="223.48" y1="535.40" x2="228.48" y2="535.40" stroke="#444" stroke-width="1.3"/>
<rect x="220.85" y="539.78" width="10.25" height="22.42" fill="#585041" stroke="#333" stroke-width="0.8"/>
<line x1="236.23" y1="518.05" x2="236.23" y2="525.29" stroke="#444" stroke-width="1.2"/>
<line x1="233.73" y1="518.05" x2="238.73" y2="518.05" stroke="#444" stroke-width="1.3"/>
<rect x="231.10" y="525.29" width="10.25" height="36.91" fill="#f2e8f0" stroke="#333" stroke-width="0.8"/>
<path d="M137.10,521.30L141.30,521.30M137.73,519.04L140.67,523.56M140.67,519.04L137.73,523.56" stroke="#1a1a1a" stroke-width="1.2" stroke-linecap="round" fill="none"/>
<circle cx="139.20" cy="521.30" r="0.9" fill="#1a1a1a"/>
<path d="M157.60,515.20L161.80,515.20M158.23,512.94L161.17,517.46M161.17,512.94L158.23,517.46" stroke="#1a1a1a" stroke-width="1.2" stroke-linecap="round" fill="none"/>
<circle cx="159.70" cy="515.20" r="0.9" fill="#1a1a1a"/>
<path d="M203.00,535.40L207.20,535.40M203.63,533.14L206.57,537.66M206.57,533.14L203.63,537.66" stroke="#1a1a1a" stroke-width="1.2" stroke-linecap="round" fill="none"/>
<circle cx="205.10" cy="535.40" r="0.9" fill="#1a1a1a"/>
<path d="M223.40,528.90L227.60,528.90M224.03,526.64L226.97,531.16M226.97,526.64L224.03,531.16" stroke="#1a1a1a" stroke-width="1.2" stroke-linecap="round" fill="none"/>
<circle cx="225.50" cy="528.90" r="0.9" fill="#1a1a1a"/>
<text x="82.00" y="573.00" font-size="10.3" text-anchor="middle" font-weight="normal" fill="#111" >Peripheral</text>
<text x="82.80" y="583.10" font-size="10.3" text-anchor="middle" font-weight="normal" fill="#111" >blood</text>
<text x="149.40" y="573.00" font-size="10.3" text-anchor="middle" font-weight="normal" fill="#111" >Lung</text>
<text x="216.20" y="573.00" font-size="10.3" text-anchor="middle" font-weight="normal" fill="#111" >Bone marrow</text>
<rect x="188.40" y="444.70" width="4.60" height="4.60" fill="#ffffff" stroke="#333" stroke-width="0.8"/>
<text x="195.60" y="450.40" font-size="10.2" text-anchor="start" font-weight="normal" fill="#111" >Control</text>
<rect x="188.40" y="455.50" width="4.60" height="4.60" fill="#924446" stroke="#333" stroke-width="0.8"/>
<text x="195.60" y="461.20" font-size="10.2" text-anchor="start" font-weight="normal" fill="#111" >HFDDDE</text>
<rect x="188.40" y="466.30" width="4.60" height="4.60" fill="#decdbe" stroke="#333" stroke-width="0.8"/>
<text x="195.60" y="472.00" font-size="10.2" text-anchor="start" font-weight="normal" fill="#111" >DFEDHD</text>
<rect x="188.40" y="477.10" width="4.60" height="4.60" fill="#585041" stroke="#333" stroke-width="0.8"/>
<text x="195.60" y="482.80" font-size="10.2" text-anchor="start" font-weight="normal" fill="#111" >anti-HFDDDE</text>
<rect x="188.40" y="487.90" width="4.60" height="4.60" fill="#f2e8f0" stroke="#333" stroke-width="0.8"/>
<text x="195.60" y="493.60" font-size="10.2" text-anchor="start" font-weight="normal" fill="#111" >Control IgG</text>
<text x="314.90" y="435.50" font-size="18" text-anchor="start" font-weight="bold" fill="#000" >F</text>
<line x1="357.50" y1="459.10" x2="357.50" y2="535.20" stroke="#555" stroke-width="1"/>
<line x1="355.30" y1="535.20" x2="357.50" y2="535.20" stroke="#555" stroke-width="0.9"/>
<text x="353.50" y="537.20" font-size="10" text-anchor="end" font-weight="normal" fill="#111" >0</text>
<line x1="355.30" y1="525.69" x2="357.50" y2="525.69" stroke="#555" stroke-width="0.9"/>
<text x="354.20" y="527.69" font-size="10" text-anchor="end" font-weight="normal" fill="#111" >20</text>
<line x1="355.30" y1="516.18" x2="357.50" y2="516.18" stroke="#555" stroke-width="0.9"/>
<text x="354.20" y="518.18" font-size="10" text-anchor="end" font-weight="normal" fill="#111" >40</text>
<line x1="355.30" y1="506.66" x2="357.50" y2="506.66" stroke="#555" stroke-width="0.9"/>
<text x="354.20" y="508.66" font-size="10" text-anchor="end" font-weight="normal" fill="#111" >60</text>
<line x1="355.30" y1="497.15" x2="357.50" y2="497.15" stroke="#555" stroke-width="0.9"/>
<text x="354.20" y="499.15" font-size="10" text-anchor="end" font-weight="normal" fill="#111" >80</text>
<line x1="355.30" y1="487.64" x2="357.50" y2="487.64" stroke="#555" stroke-width="0.9"/>
<text x="355.00" y="489.64" font-size="10" text-anchor="end" font-weight="normal" fill="#111" >100</text>
<line x1="355.30" y1="478.12" x2="357.50" y2="478.12" stroke="#555" stroke-width="0.9"/>
<text x="355.00" y="480.12" font-size="10" text-anchor="end" font-weight="normal" fill="#111" >120</text>
<line x1="355.30" y1="468.61" x2="357.50" y2="468.61" stroke="#555" stroke-width="0.9"/>
<text x="355.00" y="470.61" font-size="10" text-anchor="end" font-weight="normal" fill="#111" >140</text>
<line x1="355.30" y1="459.10" x2="357.50" y2="459.10" stroke="#555" stroke-width="0.9"/>
<text x="355.00" y="461.10" font-size="10" text-anchor="end" font-weight="normal" fill="#111" >160</text>
<line x1="357.50" y1="535.20" x2="463.10" y2="535.20" stroke="#555" stroke-width="1"/>
<text transform="translate(326.50,512.20) rotate(-90)" font-size="10.2" text-anchor="middle" fill="#111" >proMMP-9 optical density (%)</text>
<line x1="375.15" y1="484.78" x2="375.15" y2="487.22" stroke="#444" stroke-width="1.2"/>
<line x1="372.65" y1="484.78" x2="377.65" y2="484.78" stroke="#444" stroke-width="1.3"/>
<rect x="368.00" y="487.22" width="14.30" height="47.98" fill="#ffffff" stroke="#333" stroke-width="0.8"/>
<line x1="410.15" y1="462.28" x2="410.15" y2="463.40" stroke="#444" stroke-width="1.2"/>
<line x1="407.65" y1="462.28" x2="412.65" y2="462.28" stroke="#444" stroke-width="1.3"/>
<rect x="403.00" y="463.40" width="14.30" height="71.80" fill="#924446" stroke="#333" stroke-width="0.8"/>
<line x1="444.85" y1="466.47" x2="444.85" y2="467.94" stroke="#444" stroke-width="1.2"/>
<line x1="442.35" y1="466.47" x2="447.35" y2="466.47" stroke="#444" stroke-width="1.3"/>
<rect x="437.70" y="467.94" width="14.30" height="67.26" fill="#4b5fa5" stroke="#333" stroke-width="0.8"/>
<path d="M408.70,457.20L412.90,457.20M409.33,454.94L412.27,459.46M412.27,454.94L409.33,459.46" stroke="#1a1a1a" stroke-width="1.2" stroke-linecap="round" fill="none"/>
<circle cx="410.80" cy="457.20" r="0.9" fill="#1a1a1a"/>
<path d="M442.30,462.40L446.50,462.40M442.93,460.14L445.87,464.66M445.87,460.14L442.93,464.66" stroke="#1a1a1a" stroke-width="1.2" stroke-linecap="round" fill="none"/>
<circle cx="444.40" cy="462.40" r="0.9" fill="#1a1a1a"/>
<text transform="translate(379.60,539.30) rotate(-90)" font-size="10.3" text-anchor="end" fill="#111" >Control</text>
<text transform="translate(415.40,539.30) rotate(-90)" font-size="10.3" text-anchor="end" fill="#111" >HFDDDE</text>
<text transform="translate(449.90,539.30) rotate(-90)" font-size="10.3" text-anchor="end" fill="#111" >DDGW</text>
</svg>
</body></html>
